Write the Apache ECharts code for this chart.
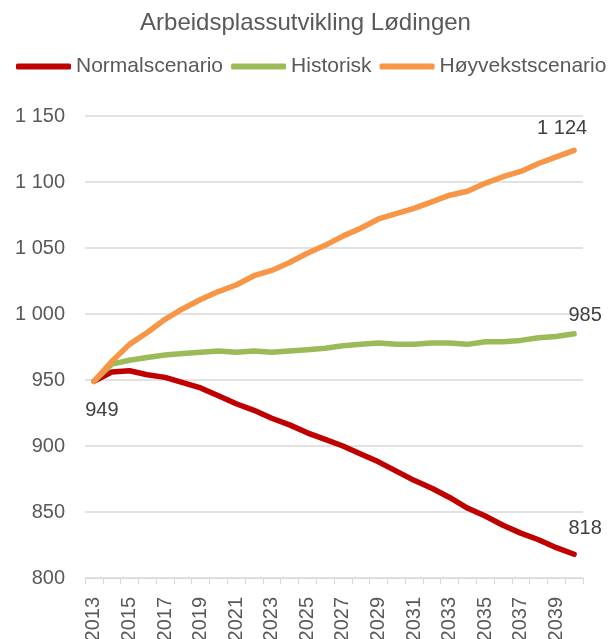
<!DOCTYPE html>
<html>
<head>
<meta charset="utf-8">
<title>Arbeidsplassutvikling Lødingen</title>
<script src="https://cdn.jsdelivr.net/npm/echarts@6/dist/echarts.min.js"></script>
<style>
  html, body { margin: 0; padding: 0; background: #ffffff; }
  #chart { width: 611px; height: 639px; }
</style>
</head>
<body>
<div id="chart"></div>
<script>
// Years 2013–2040
var years = ['2013','2014','2015','2016','2017','2018','2019','2020','2021','2022',
             '2023','2024','2025','2026','2027','2028','2029','2030','2031','2032',
             '2033','2034','2035','2036','2037','2038','2039','2040'];

var normalscenario = [949, 956, 957, 954, 952, 948, 944, 938, 932, 927,
                      921, 916, 910, 905, 900, 894, 888, 881, 874, 868,
                      861, 853, 847, 840, 834, 829, 823, 818];

var historisk = [949, 962, 965, 967, 969, 970, 971, 972, 971, 972,
                 971, 972, 973, 974, 976, 977, 978, 977, 977, 978,
                 978, 977, 979, 979, 980, 982, 983, 985];

var hoyvekstscenario = [949, 964, 977, 986, 996, 1004, 1011, 1017, 1022, 1029,
                        1033, 1039, 1046, 1052, 1059, 1065, 1072, 1076, 1080, 1085,
                        1090, 1093, 1099, 1104, 1108, 1114, 1119, 1124];

var yTicks = { min: 800, max: 1150, step: 50 };

var FONT = '"Liberation Sans", Arial, sans-serif';

// Thousands separated by a space, e.g. "1 150"
function fmt(v) {
  return String(Math.round(v)).replace(/\B(?=(\d{3})+(?!\d))/g, ' ');
}

// Value label attached to a single point, centred at an offset from it
function labelled(values, index, dx, dy) {
  return values.map(function (v, i) {
    if (i !== index) return v;
    return {
      value: v,
      label: {
        show: true,
        position: 'inside',
        offset: [dx, dy],
        align: 'center',
        verticalAlign: 'middle',
        formatter: function (p) { return fmt(p.value); },
        fontFamily: FONT,
        fontSize: 20,
        color: '#404040'
      }
    };
  });
}

function lineSeries(name, color, data, z) {
  return {
    name: name,
    type: 'line',
    data: data,
    z: z,
    symbol: 'circle',
    symbolSize: 1,
    showSymbol: true,
    itemStyle: { color: color },
    lineStyle: { color: color, width: 5.5, cap: 'round', join: 'round' },
    label: { show: false },
    emphasis: { disabled: true },
    animation: false
  };
}

var chart = echarts.init(document.getElementById('chart'), null, { renderer: 'canvas' });

chart.setOption({
  backgroundColor: '#ffffff',
  animation: false,
  title: {
    text: 'Arbeidsplassutvikling Lødingen',
    left: 'center',
    top: 11,
    padding: 0,
    textStyle: { fontFamily: FONT, fontSize: 24, fontWeight: 'normal', color: '#595959' }
  },
  legend: {
    top: 56,
    left: 16,
    padding: 0,
    itemWidth: 55,
    itemHeight: 6,
    itemGap: 8,
    icon: 'roundRect',
    textStyle: { fontFamily: FONT, fontSize: 21, color: '#595959', padding: [0, 0, 0, 0] },
    data: ['Normalscenario', 'Historisk', 'Høyvekstscenario']
  },
  grid: {
    left: 85, right: 28, top: 116, bottom: 61,
    containLabel: false,
    outerBoundsMode: 'none'
  },
  xAxis: {
    type: 'category',
    data: years,
    boundaryGap: true,
    axisLine: { show: true, lineStyle: { color: '#d9d9d9', width: 1 } },
    axisTick: { show: true, interval: 0, length: 6, lineStyle: { color: '#d9d9d9' } },
    axisLabel: {
      interval: 1,
      rotate: 90,
      margin: 19,
      fontFamily: FONT,
      fontSize: 20,
      color: '#595959'
    },
    splitLine: { show: false }
  },
  yAxis: {
    type: 'value',
    min: yTicks.min,
    max: yTicks.max,
    interval: yTicks.step,
    axisLine: { show: false },
    axisTick: { show: false },
    axisLabel: {
      margin: 20,
      fontFamily: FONT,
      fontSize: 20,
      color: '#595959',
      formatter: fmt
    },
    splitLine: { show: true, lineStyle: { color: '#d9d9d9', width: 1.5 } }
  },
  series: [
    lineSeries('Normalscenario', '#C00000',
      labelled(labelled(normalscenario, 27, 11, -26), 0, 8, 29), 1),
    lineSeries('Historisk', '#9BBB59', labelled(historisk, 27, 11, -18), 2),
    lineSeries('Høyvekstscenario', '#F79646', labelled(hoyvekstscenario, 27, -12, -22), 3)
  ]
});
</script>
</body>
</html>
